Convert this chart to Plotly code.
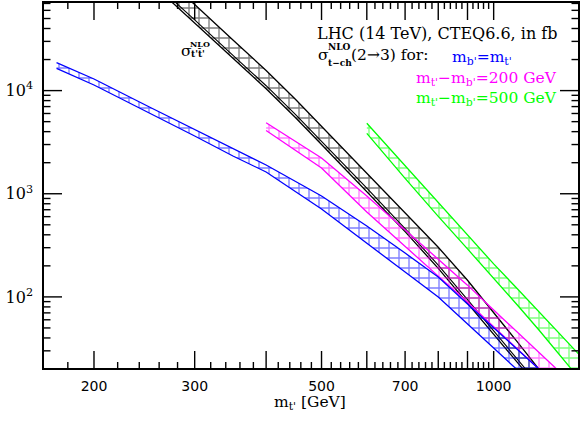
import math
import plotly.graph_objects as go

# t't' pair production band (black)
mass_pair = [260, 275, 300, 350, 400, 450, 500, 600, 700, 800, 900, 1000, 1100, 1200]
pair_hi = [142000, 106000, 68200, 31000, 15660, 8230, 4478, 1566, 656, 303, 145, 71.0, 36.6, 19.9]
pair_mid = [100000, 75500, 48400, 22000, 11150, 5870, 3220, 1135, 460, 203, 94, 47, 25, 14]
pair_lo = [93700, 70500, 45200, 20580, 10410, 5480, 3005, 1058, 429, 189, 87.6, 43.6, 23.2, 13.0]

# t-channel, m_b' = m_t' (blue)
mass_same = [172, 200, 250, 300, 350, 400, 500, 600, 700, 800, 900, 1000, 1100, 1200]
same_hi = [18640, 12960, 6934, 4197, 2716, 1900, 951, 487, 266, 156, 85.3, 49.9, 31.3, 20.0]
same_lo = [16450, 11330, 6066, 3630, 2323, 1625, 712, 333, 174, 99.8, 54.6, 31.9, 19.6, 11.5]

# t-channel, m_t' - m_b' = 200 GeV (magenta)
mass_d200 = [400, 500, 600, 700, 800, 900, 1000, 1100, 1200, 1300]
d200_hi = [4885, 2221, 951, 450, 233, 130, 74.6, 45.7, 29.2, 19.1]
d200_lo = [4104, 1776, 665, 308, 159, 89.2, 51.1, 31.3, 20.0, 12.9]

# t-channel, m_t' - m_b' = 500 GeV (green)
mass_d500 = [600, 700, 800, 900, 1000, 1100, 1200, 1300, 1400, 1450]
d500_hi = [4819, 1858, 817, 397, 209, 120, 71.7, 45.0, 28.8, 23.5]
d500_lo = [3855, 1408, 604, 292, 153, 83.4, 47.8, 28.0, 17.1, 13.5]

x_major = [200, 300, 400, 500, 600, 700, 800, 900, 1000]
x_major_text = ["200", "300", "", "500", "", "700", "", "", "1000"]
x_minor = [m for m in range(180, 1000, 20) if m % 100 != 0]
y_major = [100, 1000, 10000]
y_major_text = ["10<sup>2</sup>", "10<sup>3</sup>", "10<sup>4</sup>"]
y_minor = [k * 10 ** e for e in (1, 2, 3, 4) for k in range(2, 10)]

X_RANGE = [2.2136, 3.1475]
Y_RANGE = [1.3107, 4.8493]

SERIF = "DejaVu Serif"
BLUE = "#0000ff"
PINK = "#ff00ff"
GREEN = "#00ff00"

PLOT_W = 534.0   # plot area size in px (581 - 44 - 3)
PLOT_H = 365.0   # (421 - 3 - 53)

fig = go.Figure()


def add_band(mass, hi, lo, color):
    # closed outline: upper edge forward, lower edge back
    fig.add_trace(go.Scatter(
        x=mass + mass[::-1],
        y=hi + lo[::-1],
        mode="lines",
        fill="toself",
        fillcolor="rgba(0,0,0,0)",
        fillpattern=dict(shape="+", fgcolor=color, bgcolor="rgba(0,0,0,0)",
                         size=10, solidity=0.25),
        line=dict(color=color, width=1.3),
        hoverinfo="skip",
        showlegend=False,
    ))


add_band(mass_pair, pair_hi, pair_lo, "black")
fig.add_trace(go.Scatter(x=mass_pair, y=pair_mid, mode="lines",
                         line=dict(color="black", width=1.1),
                         hoverinfo="skip", showlegend=False))
add_band(mass_d500, d500_hi, d500_lo, GREEN)
add_band(mass_d200, d200_hi, d200_lo, PINK)
add_band(mass_same, same_hi, same_lo, BLUE)


# inward tick marks on all four sides, drawn as one line trace
# (fraction f of the plot width/height -> axis value)
def at_x(f):
    return 10 ** (X_RANGE[0] + f * (X_RANGE[1] - X_RANGE[0]))


def at_y(f):
    return 10 ** (Y_RANGE[0] + f * (Y_RANGE[1] - Y_RANGE[0]))


tx, ty = [], []
x_ticks = []
y_ticks = []
for vals, length in ((x_major, 17), (x_minor, 6)):
    f = length / PLOT_H
    for m in vals:
        if X_RANGE[0] < math.log10(m) < X_RANGE[1]:
            x_ticks.append((m, f))
            tx += [m, m, None, m, m, None]
            ty += [at_y(0), at_y(f), None, at_y(1), at_y(1 - f), None]
for vals, length in ((y_major, 18), (y_minor, 6.5)):
    f = length / PLOT_W
    for v in vals:
        if Y_RANGE[0] < math.log10(v) < Y_RANGE[1]:
            y_ticks.append((v, f))
            tx += [at_x(0), at_x(f), None, at_x(1), at_x(1 - f), None]
            ty += [v, v, None, v, v, None]

fig.add_trace(go.Scatter(x=tx, y=ty, mode="lines",
                         line=dict(color="black", width=1.4),
                         hoverinfo="skip", showlegend=False))

# same ticks again as shapes (log-axis shapes are placed in log units)
tick_line = dict(color="black", width=1.4)
for m, f in x_ticks:
    lm = math.log10(m)
    for y0, y1 in ((0, f), (1 - f, 1)):
        fig.add_shape(type="line", xref="x", yref="paper",
                      x0=lm, x1=lm, y0=y0, y1=y1, line=tick_line)
for v, f in y_ticks:
    lv = math.log10(v)
    for x0, x1 in ((0, f), (1 - f, 1)):
        fig.add_shape(type="line", xref="paper", yref="y",
                      x0=x0, x1=x1, y0=lv, y1=lv, line=tick_line)

frame = dict(type="log", automargin=False, showline=True, linecolor="black",
             linewidth=1.6, mirror=True, ticks="", showgrid=False, zeroline=False)

fig.update_xaxes(
    **frame, range=X_RANGE,
    tickmode="array", tickvals=x_major, ticktext=x_major_text,
    tickfont=dict(family="DejaVu Sans", size=14, color="black"),
    ticklabelstandoff=4,
)
fig.update_yaxes(
    **frame, range=Y_RANGE,
    tickmode="array", tickvals=y_major, ticktext=y_major_text,
    tickfont=dict(family=SERIF, size=16, color="black"),
    ticklabelstandoff=6,
)


def px_x(p):
    return (p - 44) / PLOT_W


def px_y(p):
    return (368 - p) / PLOT_H


def note(text, x, y, size=15.5, color="black", anchor="left"):
    fig.add_annotation(
        text=text, x=px_x(x), y=px_y(y), xref="paper", yref="paper",
        xanchor=anchor, yanchor="middle", showarrow=False,
        font=dict(family=SERIF, size=size, color=color),
    )


note("LHC (14 TeV), CTEQ6.6, in fb", 315, 33, size=16)
note("σ", 316, 55)
note("<b>NLO</b>", 326, 47, size=9)
note("<b>t−ch</b>", 326, 63, size=9)
note("(2→3) for:", 349, 55)
note("m<sub>b'</sub>=m<sub>t'</sub>", 450, 58, color=BLUE)
note("m<sub>t'</sub>−m<sub>b'</sub>=200 GeV", 414, 79, color=PINK)
note("m<sub>t'</sub>−m<sub>b'</sub>=500 GeV", 414, 99, color=GREEN)

note("σ", 179, 51)
note("<b>NLO</b>", 188, 44, size=8)
note("<b>t't\u0304'</b>", 189, 54, size=9)

note("m<sub>t'</sub> [GeV]", 310, 403, anchor="center")

fig.update_layout(
    width=581, height=421,
    margin=dict(l=44, r=3, t=3, b=53),
    paper_bgcolor="white", plot_bgcolor="white",
    showlegend=False,
)

# the page's default body margin would shift the figure by 8 px
fig.write_html("out.html", config={"displayModeBar": False},
               post_script="document.body.style.margin='0';")
